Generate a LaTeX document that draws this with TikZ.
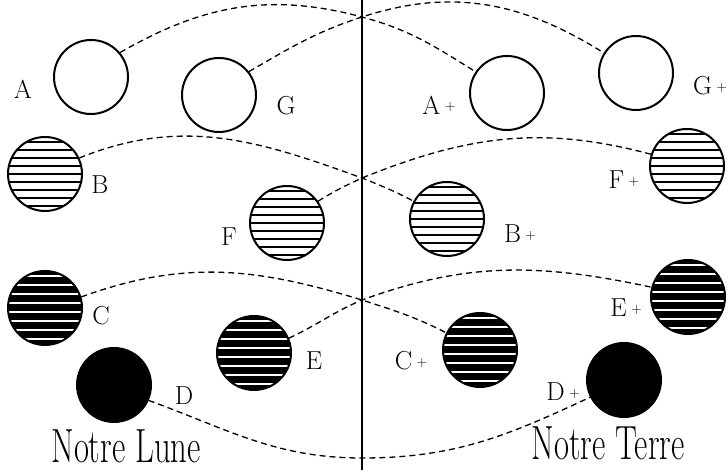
\documentclass[tikz,border=0pt]{standalone}
\usepackage{fontspec}
\setmainfont{Latin Modern Roman}
\usepackage{graphicx}
\begin{document}
\begin{tikzpicture}[x=1pt,y=1pt]
\tikzset{
  body/.style={circle, draw, line width=2pt, minimum size=74pt, inner sep=0pt},
  light/.style={body, path picture={
     \foreach \o in {-32,-24,...,32}
       \draw[line width=1.2pt] ([yshift=\o pt]path picture bounding box.west) -- ([yshift=\o pt]path picture bounding box.east);}},
  dark/.style={body, fill=black, path picture={
     \foreach \o in {-31,-22,...,32}
       \draw[white,line width=2.6pt] ([yshift=\o pt]path picture bounding box.west) -- ([yshift=\o pt]path picture bounding box.east);}},
  full/.style={body, fill=black},
  lbl/.style={font=\fontsize{26}{26}\selectfont, inner sep=0pt},
  big/.style={font=\fontsize{48}{48}\selectfont, inner sep=0pt, anchor=base},
  orbit/.style={dash pattern=on 6pt off 4pt, line width=1.3pt},
  axis/.style={line width=1.5pt}
}
\newcommand{\pl}{\,{\fontsize{14}{14}\selectfont\raisebox{3.5pt}{+}}}
\useasboundingbox (0,0) rectangle (728,470);

% axis
\coordinate (top) at (362,470);
\coordinate (bot) at (362,0);
\draw[axis] (top) -- (bot);

% bodies
\node[body]  (A)  at (91,393)  {};
\node[body]  (G)  at (219,375) {};
\node[body]  (Ap) at (507,377) {};
\node[body]  (Gp) at (636,397) {};
\node[light] (B)  at (45,296)  {};
\node[light] (F)  at (287,247) {};
\node[light] (Bp) at (447,251) {};
\node[light] (Fp) at (687,304) {};
\node[dark]  (C)  at (45,162)  {};
\node[dark]  (E)  at (254,117) {};
\node[dark]  (Cp) at (480,120) {};
\node[dark]  (Ep) at (688,173) {};
\node[full]  (D)  at (114,85)  {};
\node[full]  (Dp) at (624,90)  {};

% labels
\node[lbl] (lA)  at (23,381)  {A};
\node[lbl] (lG)  at (286,364) {G};
\node[lbl] (lAp) at (439,365) {A\pl};
\node[lbl] (lGp) at (710,384) {G\pl};
\node[lbl] (lB)  at (100,285) {B};
\node[lbl] (lF)  at (229,233) {F};
\node[lbl] (lBp) at (520,236) {B\pl};
\node[lbl] (lFp) at (624,290) {F\pl};
\node[lbl] (lC)  at (101,154) {C};
\node[lbl] (lE)  at (314,109) {E};
\node[lbl] (lCp) at (411,109) {C\pl};
\node[lbl] (lEp) at (626,162) {E\pl};
\node[lbl] (lD)  at (184,74)  {D};
\node[lbl] (lDp) at (563,78)  {D\pl};

\node[big] (lune)  at (126,7)  {\scalebox{0.68}[1]{Notre Lune}};
\node[big] (terre) at (608,10) {\scalebox{0.68}[1]{Notre Terre}};

% crossing points
\coordinate (X1) at (362,453);
\coordinate (X2) at (362,292);
\coordinate (X3) at (362,170);
\coordinate (X4) at (362,12);

% orbits
\draw[orbit] (A.40) to[out=30,in=165] (X1) to[out=-15,in=148] (Ap.146);
\draw[orbit] (G.38) to[out=30,in=-162] (X1) to[out=18,in=148] (Gp.148);
\draw[orbit] (B.25) to[out=22,in=160] (X2) to[out=-22,in=152] (Bp.152);
\draw[orbit] (F.35) to[out=32,in=-155] (X2) to[out=22,in=165] (Fp.162);
\draw[orbit] (C.17) to[out=20,in=163] (X3) to[out=-18,in=153] (Cp.153);
\draw[orbit] (E.23) to[out=25,in=-157] (X3) to[out=20,in=168] (Ep.165);
\draw[orbit] (D.-24) to[out=-20,in=180] (X4) to[out=0,in=-155] (Dp.-153);
\end{tikzpicture}
\end{document}
